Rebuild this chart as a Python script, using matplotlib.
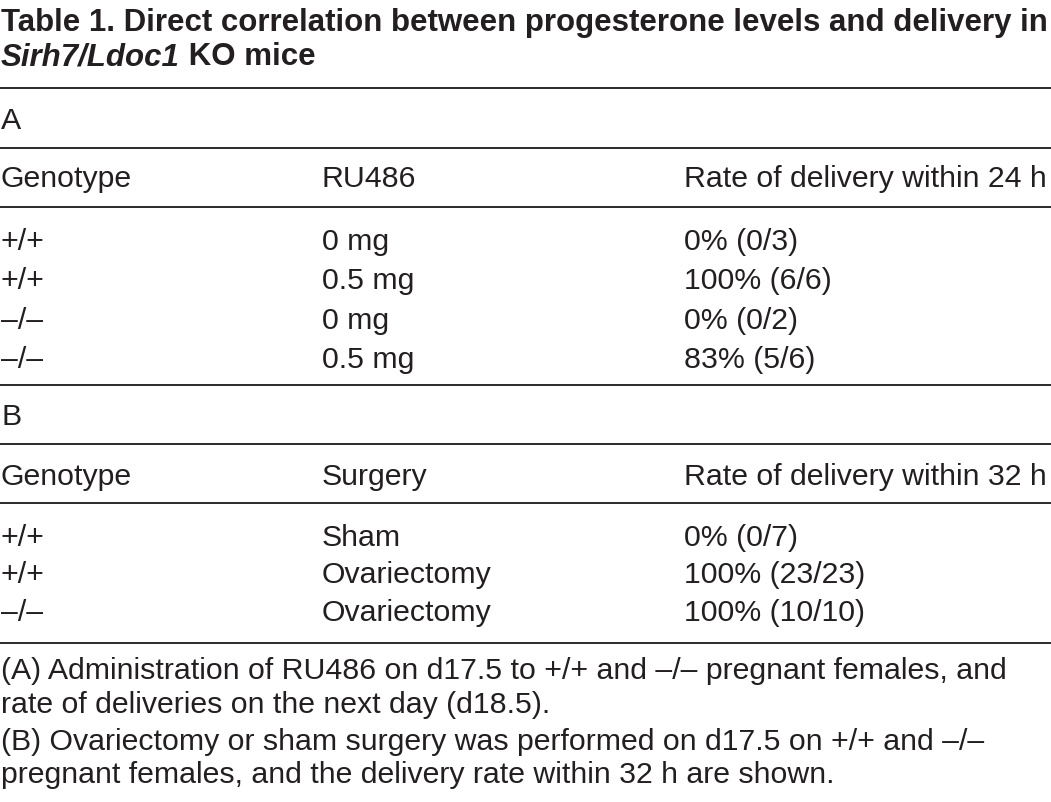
import matplotlib
matplotlib.use("Agg")
import matplotlib.pyplot as plt

# ---- data ----
title_line1 = "Table 1. Direct correlation between progesterone levels and delivery in"
title_gene = "Sirh7/Ldoc1"
title_rest = " KO mice"

section_a_label = "A"
header_a = ["Genotype", "RU486", "Rate of delivery within 24 h"]
genotype_a = ["+/+", "+/+", "\u2013/\u2013", "\u2013/\u2013"]
ru486_dose = ["0 mg", "0.5 mg", "0 mg", "0.5 mg"]
rate_a = ["0% (0/3)", "100% (6/6)", "0% (0/2)", "83% (5/6)"]

section_b_label = "B"
header_b = ["Genotype", "Surgery", "Rate of delivery within 32 h"]
genotype_b = ["+/+", "+/+", "\u2013/\u2013"]
surgery = ["Sham", "Ovariectomy", "Ovariectomy"]
rate_b = ["0% (0/7)", "100% (23/23)", "100% (10/10)"]

footnotes = [
    "(A) Administration of RU486 on d17.5 to +/+ and \u2013/\u2013 pregnant females, and",
    "rate of deliveries on the next day (d18.5).",
    "(B) Ovariectomy or sham surgery was performed on d17.5 on +/+ and \u2013/\u2013",
    "pregnant females, and the delivery rate within 32 h are shown.",
]

# ---- layout ----
W, H = 1051, 802
FONT = ["Liberation Sans", "DejaVu Sans"]
TXT = "#231f20"
RULE = "#2a2a2a"
BODY = 21.8
TITLE = 22.5
col_x = [1, 322, 684]

fig = plt.figure(figsize=(W / 100, H / 100), dpi=100)
ax = fig.add_axes([0, 0, 1, 1])
ax.set_xlim(0, W)
ax.set_ylim(H, 0)
ax.axis("off")


def txt(x, y, s, **kw):
    kw.setdefault("fontsize", BODY)
    kw.setdefault("color", TXT)
    kw.setdefault("family", FONT)
    return ax.text(x, y, s, va="baseline", ha="left", **kw)


# title
txt(1, 31, title_line1, fontsize=TITLE, fontweight="bold")
t_it = txt(1, 65, title_gene, fontsize=TITLE, fontweight="bold", style="italic")
fig.canvas.draw()
r = fig.canvas.get_renderer()
bb = t_it.get_window_extent(r)
x_end = ax.transData.inverted().transform((bb.x1, bb.y0))[0]
txt(x_end, 65, title_rest, fontsize=TITLE, fontweight="bold")

# rules
rules = [88, 148, 207, 385, 444, 503, 643]
ax.hlines(rules, 0, W, colors=RULE, linewidth=1.4)

# section A
txt(col_x[0], 129, section_a_label)
for x, h in zip(col_x, header_a):
    txt(x, 187, h)
row_a_y = [250, 289, 329, 368]
for y, g, d, rt in zip(row_a_y, genotype_a, ru486_dose, rate_a):
    txt(col_x[0], y, g)
    txt(col_x[1], y, d)
    txt(col_x[2], y, rt)

# section B
txt(col_x[0], 425, section_b_label)
for x, h in zip(col_x, header_b):
    txt(x, 485, h)
row_b_y = [546, 583, 621]
for y, g, s, rt in zip(row_b_y, genotype_b, surgery, rate_b):
    txt(col_x[0], y, g)
    txt(col_x[1], y, s)
    txt(col_x[2], y, rt)

# footnotes
foot_y = [679, 713, 750, 783]
for y, s in zip(foot_y, footnotes):
    txt(1, y, s)

fig.savefig("out.png", dpi=100, facecolor="white")
